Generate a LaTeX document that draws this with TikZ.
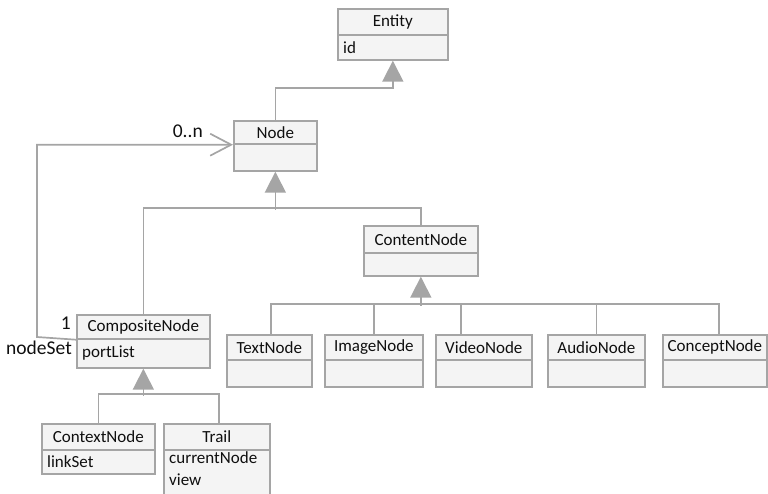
\documentclass[tikz,border=0pt]{standalone}
\usepackage{fontspec}
\setmainfont{Carlito}
\usetikzlibrary{arrows.meta}
\definecolor{umlline}{RGB}{165,165,165}
\definecolor{umlfill}{RGB}{244,244,244}
\definecolor{umltext}{RGB}{15,15,15}
\tikzset{
  hdr/.style={draw=umlline, fill=umlfill, line width=1.7pt, anchor=north west, inner sep=2pt,
    text=umltext, font=\fontsize{17}{20}\selectfont},
  bdy/.style={draw=umlline, fill=umlfill, line width=1.7pt, anchor=north west, inner sep=0pt},
  attr/.style={anchor=west, inner sep=0pt, text=umltext, font=\fontsize{17}{20}\selectfont},
  lbl/.style={inner sep=0pt, text=umltext, font=\fontsize{19.5}{22}\selectfont},
  conn/.style={draw=umlline, line width=1.7pt},
  gen/.style={conn, -{Triangle[length=21pt,width=21pt,fill=umlline]}},
  assoc/.style={conn, -{Straight Barb[length=21pt,width=22pt]}}
}
\begin{document}
\begin{tikzpicture}[x=1pt,y=-1pt]
\useasboundingbox (0,0) rectangle (768,493);
\clip (0,0) rectangle (768,493);
% Entity
\node[hdr, minimum width=110pt, minimum height=26pt] (entityh) at (337,8) {Entity};
\node[bdy, minimum width=110pt, minimum height=25pt] (entityb) at (337,34) {};
\node[attr] (entityid) at ([xshift=6pt]entityb.west) {id};
% Node
\node[hdr, minimum width=83pt, minimum height=23pt] (nodeh) at (233,120) {Node};
\node[bdy, minimum width=83pt, minimum height=27pt] (nodeb) at (233,143) {};
% ContentNode
\node[hdr, minimum width=114pt, minimum height=27pt] (contenth) at (363,225) {ContentNode};
\node[bdy, minimum width=114pt, minimum height=23pt] (contentb) at (363,252) {};
% CompositeNode
\node[hdr, minimum width=133pt, minimum height=24pt] (compositeh) at (76,314) {CompositeNode};
\node[bdy, minimum width=133pt, minimum height=29pt] (compositeb) at (76,338) {};
\node[attr] (portlist) at ([xshift=6pt]compositeb.west) {portList};
% content subclasses
\node[hdr, minimum width=85pt, minimum height=25pt] (texth) at (226,334) {TextNode};
\node[bdy, minimum width=85pt, minimum height=27pt] (textb) at (226,359) {};
\node[hdr, minimum width=98pt, minimum height=25pt] (imageh) at (324,334) {ImageNode};
\node[bdy, minimum width=98pt, minimum height=27pt] (imageb) at (324,359) {};
\node[hdr, minimum width=96pt, minimum height=25pt] (videoh) at (435,334) {VideoNode};
\node[bdy, minimum width=96pt, minimum height=27pt] (videob) at (435,359) {};
\node[hdr, minimum width=97pt, minimum height=25pt] (audioh) at (547,334) {AudioNode};
\node[bdy, minimum width=97pt, minimum height=27pt] (audiob) at (547,359) {};
\node[hdr, minimum width=104pt, minimum height=25pt] (concepth) at (662,334) {ConceptNode};
\node[bdy, minimum width=104pt, minimum height=27pt] (conceptb) at (662,359) {};
% composite subclasses
\node[hdr, minimum width=113pt, minimum height=26pt] (contexth) at (41,423) {ContextNode};
\node[bdy, minimum width=113pt, minimum height=24pt] (contextb) at (41,449) {};
\node[attr] (linkset) at ([xshift=6pt]contextb.west) {linkSet};
\node[hdr, minimum width=106pt, minimum height=26pt] (trailh) at (163,423) {Trail};
\node[bdy, minimum width=106pt, minimum height=55pt] (trailb) at (163,449) {};
\node[attr] (curnode) at (169,458) {currentNode};
\node[attr] (view) at (169,480) {view};
% generalizations
\draw[gen] (nodeh.north) -- ++(0,-32) -| (entityb.south);
\draw[conn] (compositeh.north) -- ++(0,-106) -| (contenth.north);
\draw[gen] (nodeb.south) ++(0,38) -- (nodeb.south);
\draw[conn] (texth.north) ++(1.5,0) -- ++(0,-30) -| ([xshift=4pt]concepth.north);
\draw[conn] (imageh.north) -- ++(0,-30);
\draw[conn] ([xshift=26pt]videoh.north west) -- ++(0,-30);
\draw[conn] (audioh.north) -- ++(0,-30);
\draw[gen] (contentb.south) ++(0,29) -- (contentb.south);
\draw[conn] (contexth.north) -- ++(0,-29) -| ([xshift=2pt]trailh.north);
\draw[gen] (compositeb.south) ++(0,27) -- (compositeb.south);
% association
\coordinate (loopc) at (37,337);
\draw[assoc] (compositeh.south west) -- (loopc) |- (nodeh.south west);
\node[lbl, anchor=east] (mult0n) at (203,131) {0..n};
\node[lbl, anchor=east] (mult1) at (71,323) {1};
\node[lbl, anchor=east] (nodeset) at (72,348) {nodeSet};
\end{tikzpicture}
\end{document}
